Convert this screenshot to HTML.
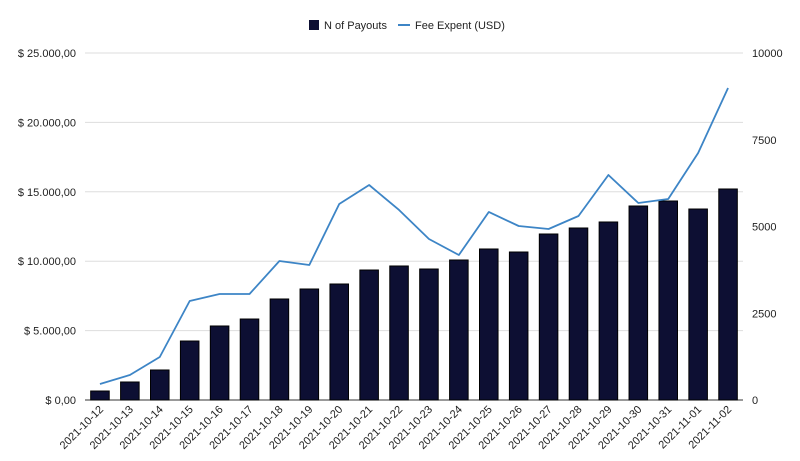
<!DOCTYPE html>
<html><head><meta charset="utf-8"><style>
body{margin:0;background:#fff;font-family:"Liberation Sans",sans-serif}
svg text{font-family:"Liberation Sans",sans-serif;fill:#222}
</style></head><body>
<svg id="chart" width="800" height="456" xmlns="http://www.w3.org/2000/svg">
<g>
<rect x="309" y="20" width="10" height="10" fill="#0d0f33"/>
<text x="324" y="29" font-size="11">N of Payouts</text>
<line x1="398" y1="25" x2="410" y2="25" stroke="#3d85c6" stroke-width="2"/>
<text x="415" y="29" font-size="11">Fee Expent (USD)</text>
</g>
<g id="grid"></g><g id="bars"></g><g id="line"></g><g id="axes"></g>
</svg>
<script>
const categories=["2021-10-12","2021-10-13","2021-10-14","2021-10-15","2021-10-16","2021-10-17","2021-10-18","2021-10-19","2021-10-20","2021-10-21","2021-10-22","2021-10-23","2021-10-24","2021-10-25","2021-10-26","2021-10-27","2021-10-28","2021-10-29","2021-10-30","2021-10-31","2021-11-01","2021-11-02"];
const payouts=[259,519,865,1700,2133,2334,2911,3199,3343,3746,3862,3775,4035,4352,4265,4784,4957,5130,5591,5735,5504,6081];
const fees=[1153,1801,3098,7133,7637,7637,10014,9726,14121,15490,13689,11599,10447,13545,12536,12320,13256,16210,14193,14481,17795,22478];
const leftTicks=[0,5000,10000,15000,20000,25000];
const leftTickLabels=["$ 0,00","$ 5.000,00","$ 10.000,00","$ 15.000,00","$ 20.000,00","$ 25.000,00"];
const rightTicks=[0,2500,5000,7500,10000];
const rightTickLabels=["0","2500","5000","7500","10000"];
const NS="http://www.w3.org/2000/svg";
const X0=85,X1=743,Y0=400,Y1=53;
const step=(X1-X0)/categories.length;
const xc=i=>X0+step*(i+0.5);
const yL=v=>Y0-(v/25000)*(Y0-Y1);
const yR=v=>Y0-(v/10000)*(Y0-Y1);
function mk(tag,attrs,parent){const e=document.createElementNS(NS,tag);for(const k in attrs)e.setAttribute(k,attrs[k]);document.getElementById(parent).appendChild(e);return e;}
leftTicks.forEach((t,i)=>{
 const g=mk("line",{x1:X0,x2:X1,y1:yL(t),y2:yL(t),stroke:i==0?"#333":"#ddd","stroke-width":1},"grid");
 
 
 const tx=mk("text",{x:76,y:yL(t)+4,"text-anchor":"end","font-size":"11"},"axes");
 tx.textContent=leftTickLabels[i];
 
 
});
rightTicks.forEach((t,i)=>{
 const tx=mk("text",{x:752,y:yR(t)+4,"font-size":"11"},"axes");
 tx.textContent=rightTickLabels[i];
 
 
});
const bw=step*0.62;
payouts.forEach((v,i)=>{
 const r=mk("rect",{x:xc(i)-bw/2,y:yR(v),width:bw,height:Y0-yR(v),fill:"#0d0f33",stroke:"#000","stroke-width":1},"bars");
 
 
});
const pl=mk("polyline",{points:fees.map((v,i)=>xc(i)+","+yL(v)).join(" "),fill:"none",stroke:"#3d85c6","stroke-width":1.8,"stroke-linejoin":"round"},"line");


categories.forEach((c,i)=>{
 const tx=mk("text",{x:xc(i)+4,y:410,"text-anchor":"end","font-size":"11",transform:`rotate(-45 ${xc(i)+4} 410)`},"axes");
 tx.textContent=c;
 
 
});
</script>
</body></html>
